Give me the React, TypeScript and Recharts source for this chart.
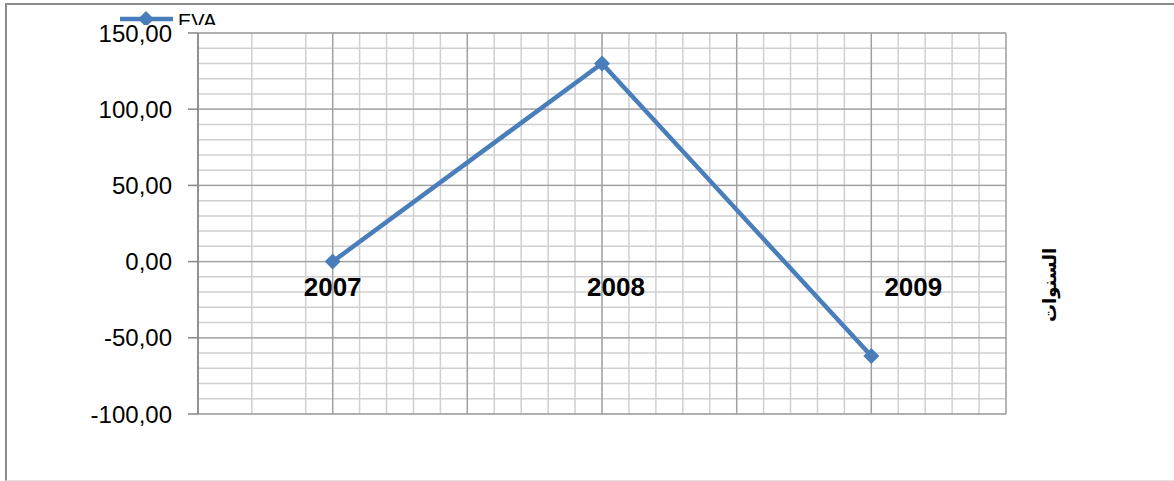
import { LineChart, Line, XAxis, YAxis, CartesianGrid, ReferenceDot, Legend } from "recharts"

const years = ["2007", "2008", "2009"]
const evaValues = [0, 130, -62]
const yTicks = [-100, -50, 0, 50, 100, 150]
const yMinorTicks = [-100, -90, -80, -70, -60, -50, -40, -30, -20, -10, 0, 10, 20, 30, 40, 50, 60, 70, 80, 90, 100, 110, 120, 130, 140, 150]
const xMajorTicks = [-0.5, 0, 0.5, 1, 1.5, 2, 2.5]
const xMinorTicks = Array.from({ length: 31 }, (_, i) => Math.round((-0.5 + i * 0.1) * 10) / 10)

// the year labels sit a bit to the right of their points in the original
const yearLabelShift = [0, 14, 42]

const data = years.map((year, i) => ({ year, pos: i, eva: evaValues[i] }))

const BLUE = "#4a7ebb"
const FONT = "Liberation Sans, Arial, sans-serif"

function Diamond({ cx, cy }: { cx?: number; cy?: number }) {
  if (cx == null || cy == null) return null
  const s = 8
  return <polygon points={`${cx},${cy - s} ${cx + s},${cy} ${cx},${cy + s} ${cx - s},${cy}`} fill={BLUE} />
}

function LegendContent() {
  return (
    <div style={{ height: 25, overflow: "hidden", display: "flex", alignItems: "flex-start" }}>
      <svg width={60} height={25} style={{ flex: "none" }}>
        <line x1={2} y1={19} x2={55} y2={19} stroke={BLUE} strokeWidth={4.5} />
        <polygon points="28,11 36,19 28,27 20,19" fill={BLUE} />
      </svg>
      <span style={{ fontFamily: FONT, fontSize: 20, lineHeight: "20px", marginTop: 11, color: "#000" }}>
        EVA
      </span>
    </div>
  )
}

function RightTitle({ viewBox }: { viewBox?: { x: number; y: number; width: number; height: number } }) {
  if (!viewBox) return null
  const x = viewBox.x + 43
  const y = 285
  return (
    <text
      x={x}
      y={y}
      transform={`rotate(-90 ${x} ${y})`}
      textAnchor="middle"
      dominantBaseline="central"
      style={{ fontFamily: "DejaVu Sans, sans-serif", fontSize: 18, fontWeight: "bold", fill: "#000" }}
    >
      السنوات
    </text>
  )
}

// minor horizontal grid lines, placed through the value axis scale
function minorRows({ yAxis, offset }: any): number[] {
  if (yAxis && typeof yAxis.scale === "function") {
    return yMinorTicks.map((v) => yAxis.scale(v))
  }
  const lo = yTicks[0]
  const hi = yTicks[yTicks.length - 1]
  return yMinorTicks.map((v) => offset.top + ((hi - v) / (hi - lo)) * offset.height)
}

export default function App() {
  return (
    <div style={{ position: "absolute", left: 0, top: 0, width: 1174, height: 481, background: "#fff" }}>
      <div
        style={{
          position: "absolute",
          left: 5,
          top: 3,
          right: 0,
          bottom: 0,
          borderTop: "2px solid #8c8c8c",
          borderLeft: "2px solid #8c8c8c",
          borderBottom: "1px solid #e2e2e2",
        }}
      />
      <div style={{ position: "absolute", left: 0, top: 0 }}>
        <LineChart width={1174} height={481} data={data} margin={{ top: 33, right: 0, bottom: 67, left: 0 }}>
          <XAxis xAxisId="x" type="number" dataKey="pos" domain={[-0.5, 2.5]} ticks={xMajorTicks} hide />
          <XAxis xAxisId="xm" type="number" dataKey="pos" domain={[-0.5, 2.5]} ticks={xMinorTicks} hide />
          <YAxis
            yAxisId="y"
            domain={[-100, 150]}
            ticks={yTicks}
            width={198}
            tickSize={10}
            tickMargin={16}
            tickFormatter={(v: number) => v.toFixed(2).replace(".", ",")}
            tick={{ fontSize: 24, fill: "#000", fontFamily: FONT }}
            axisLine={{ stroke: "#868686", strokeWidth: 1.5 }}
            tickLine={{ stroke: "#868686", strokeWidth: 1.5 }}
            interval={0}
          />
          <YAxis
            yAxisId="r"
            orientation="right"
            domain={[-100, 150]}
            ticks={yTicks}
            width={168}
            tick={false}
            tickLine={false}
            axisLine={false}
            label={<RightTitle />}
          />
          <CartesianGrid
            xAxisId="xm"
            yAxisId="y"
            stroke="#d0d0d0"
            strokeWidth={1.5}
            horizontalCoordinatesGenerator={minorRows}
          />
          <CartesianGrid xAxisId="x" yAxisId="y" stroke="#a0a0a0" strokeWidth={1.3} />
          <Legend
            verticalAlign="middle"
            align="center"
            content={<LegendContent />}
            wrapperStyle={{ left: 118, top: 0, width: 200, height: 25 }}
          />
          {data.map((d, i) => (
            <ReferenceDot
              key={d.year}
              xAxisId="x"
              yAxisId="y"
              x={d.pos}
              y={0}
              r={0}
              fill="none"
              stroke="none"
              label={{
                value: d.year,
                position: "bottom",
                offset: 16,
                dx: yearLabelShift[i],
                fontSize: 26,
                fontWeight: "bold",
                fill: "#000",
                fontFamily: FONT,
              }}
            />
          ))}
          <Line
            xAxisId="x"
            yAxisId="y"
            type="linear"
            dataKey="eva"
            name="EVA"
            stroke={BLUE}
            strokeWidth={4.5}
            dot={<Diamond />}
            activeDot={false}
            isAnimationActive={false}
          />
        </LineChart>
      </div>
    </div>
  )
}
